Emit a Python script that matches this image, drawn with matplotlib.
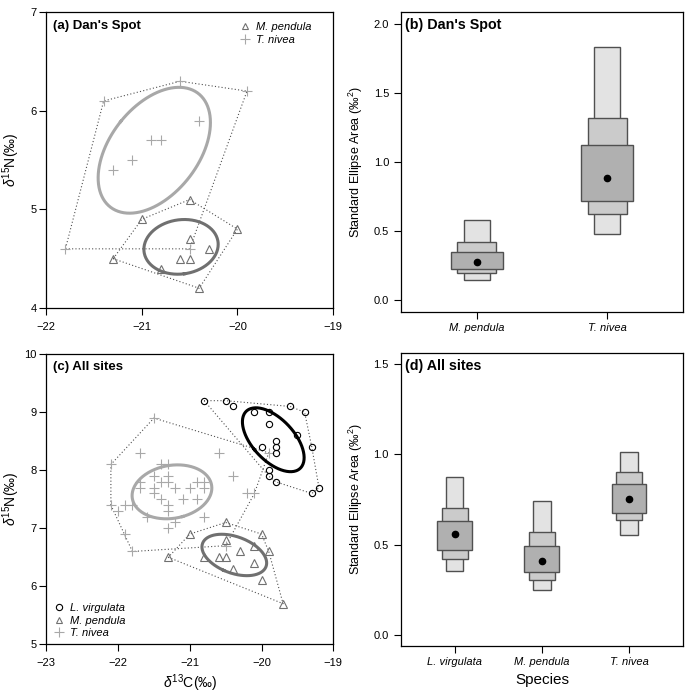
import matplotlib
matplotlib.use("Agg")
import matplotlib.pyplot as plt
import numpy as np

plt.rcParams["font.family"] = ["Liberation Sans", "DejaVu Sans"]
plt.rcParams["mathtext.fontset"] = "custom"
plt.rcParams["mathtext.rm"] = "Liberation Sans"
plt.rcParams["mathtext.it"] = "Liberation Sans:italic"

# ---- panel (a): Dan's Spot isotope values ----
dan_mp_c = [-20.5, -21.0, -20.0, -20.5, -20.3, -21.3, -20.6, -20.5, -20.8, -20.4]
dan_mp_n = [5.1, 4.9, 4.8, 4.7, 4.6, 4.5, 4.5, 4.5, 4.4, 4.2]
dan_tn_c = [-21.4, -20.6, -19.9, -20.4, -20.9, -20.8, -21.1, -21.3, -21.8, -20.5]
dan_tn_n = [6.1, 6.3, 6.2, 5.9, 5.7, 5.7, 5.5, 5.4, 4.6, 4.6]

# ---- panel (c): all sites ----
all_lv_c = [-20.8, -20.5, -20.4, -20.1, -19.9, -19.6, -19.4, -19.9, -19.5, -19.8,
            -19.8, -19.8, -20.0, -19.3, -19.9, -19.9, -19.8, -19.3, -19.2]
all_lv_n = [9.2, 9.2, 9.1, 9.0, 9.0, 9.1, 9.0, 8.8, 8.6, 8.5,
            8.4, 8.3, 8.4, 8.4, 8.0, 7.9, 7.8, 7.6, 7.7]
all_mp_c = [-20.5, -21.0, -20.0, -20.5, -20.1, -20.3, -19.9, -21.3, -20.8, -20.6,
            -20.5, -20.1, -20.4, -20.0, -19.7]
all_mp_n = [7.1, 6.9, 6.9, 6.8, 6.7, 6.6, 6.6, 6.5, 6.5, 6.5,
            6.5, 6.4, 6.3, 6.1, 5.7]
all_tn_c = [-21.5, -21.7, -20.6, -19.9, -22.1, -21.4, -21.3, -21.5, -21.3, -20.4,
            -21.4, -21.3, -20.9, -20.8, -21.7, -21.5, -21.2, -21.0, -20.8, -21.5,
            -20.2, -20.1, -21.4, -21.1, -20.9, -22.1, -21.9, -21.8, -21.3, -22.0,
            -21.3, -21.6, -20.8, -21.2, -21.3, -21.9, -21.8, -20.5, -21.7]
all_tn_n = [8.9, 8.3, 8.3, 8.3, 8.1, 8.1, 8.1, 7.9, 7.9, 7.9,
            7.8, 7.8, 7.8, 7.8, 7.7, 7.7, 7.7, 7.7, 7.7, 7.6,
            7.6, 7.6, 7.5, 7.5, 7.5, 7.4, 7.4, 7.4, 7.4, 7.3,
            7.3, 7.2, 7.2, 7.1, 7.0, 6.9, 6.6, 6.7, 7.8]

# ---- SEA credible intervals (95, 75, 50 %) and modes ----
dan_species = ["M. pendula", "T. nivea"]
dan_lo95 = [0.147, 0.478]
dan_hi95 = [0.580, 1.831]
dan_lo75 = [0.196, 0.623]
dan_hi75 = [0.418, 1.316]
dan_lo50 = [0.225, 0.717]
dan_hi50 = [0.348, 1.121]
dan_mode = [0.278, 0.884]

all_species = ["L. virgulata", "M. pendula", "T. nivea"]
all_lo95 = [0.352, 0.251, 0.553]
all_hi95 = [0.875, 0.740, 1.015]
all_lo75 = [0.419, 0.304, 0.635]
all_hi75 = [0.701, 0.568, 0.904]
all_lo50 = [0.469, 0.347, 0.677]
all_hi50 = [0.633, 0.494, 0.836]
all_mode = [0.557, 0.411, 0.753]

C_LV = "black"
C_MP = "#707070"
C_TN = "#a8a8a8"
HULL = "#505050"


def hull(x, y):
    pts = sorted(set(zip(x, y)))

    def cross(o, a, b):
        return (a[0] - o[0]) * (b[1] - o[1]) - (a[1] - o[1]) * (b[0] - o[0])

    lower, upper = [], []
    for p in pts:
        while len(lower) >= 2 and cross(lower[-2], lower[-1], p) <= 0:
            lower.pop()
        lower.append(p)
    for p in reversed(pts):
        while len(upper) >= 2 and cross(upper[-2], upper[-1], p) <= 0:
            upper.pop()
        upper.append(p)
    h = lower[:-1] + upper[:-1]
    h.append(h[0])
    return np.array(h)


def std_ellipse(x, y):
    # small-sample corrected standard ellipse (SEAc)
    x, y = np.asarray(x), np.asarray(y)
    n = len(x)
    cov = np.cov(x, y) * (n - 1) / (n - 2)
    vals, vecs = np.linalg.eigh(cov)
    t = np.linspace(0, 2 * np.pi, 200)
    circ = np.vstack([np.cos(t), np.sin(t)])
    pts = vecs @ (np.sqrt(vals)[:, None] * circ)
    return x.mean() + pts[0], y.mean() + pts[1]


def iso_panel(ax, groups, xlim, ylim, title):
    for x, y, col, mk, ms, lw_e in groups:
        h = hull(x, y)
        ax.plot(h[:, 0], h[:, 1], ls=(0, (1, 2)), color=HULL, lw=0.8, zorder=1)
    for x, y, col, mk, ms, lw_e in groups:
        if mk == "+":
            ax.plot(x, y, ls="none", marker="+", ms=ms, mew=0.8, color=col, zorder=2)
        else:
            ax.plot(x, y, ls="none", marker=mk, ms=ms, mfc="none", mew=0.8,
                    mec=col, zorder=2)
        ex, ey = std_ellipse(x, y)
        ax.plot(ex, ey, color=col, lw=lw_e, zorder=3)
    ax.set_xlim(*xlim)
    ax.set_ylim(*ylim)
    ax.tick_params(labelsize=8, length=5, direction="out")
    ax.tick_params(axis="x", pad=5)
    ax.tick_params(axis="y", pad=2)
    ax.text(0.024, 0.955, title, transform=ax.transAxes, fontsize=9.5,
            fontweight="bold", va="center", ha="left")


def sea_panel(ax, species, lo95, hi95, lo75, hi75, lo50, hi50, mode, ylim, yticks, title):
    pos = np.arange(1, len(species) + 1)
    for lo, hi, w, col in [(lo95, hi95, 0.2, "#e3e3e3"),
                           (lo75, hi75, 0.3, "#cbcbcb"),
                           (lo50, hi50, 0.4, "#b0b0b0")]:
        lo, hi = np.array(lo), np.array(hi)
        ax.bar(pos, hi - lo, bottom=lo, width=w, color=col, edgecolor="#505050",
               lw=1.0, zorder=2)
    ax.plot(pos, mode, ls="none", marker="o", ms=4.5, color="black", zorder=3)
    n = len(species)
    pad = 0.04 * n
    ax.set_xlim(0.5 - pad, n + 0.5 + pad)
    ax.set_ylim(*ylim)
    ax.set_xticks(pos)
    ax.set_xticklabels(species, fontstyle="italic")
    ax.set_yticks(yticks)
    ax.set_yticklabels([f"{v:.1f}" for v in yticks])
    ax.tick_params(labelsize=8, length=5, direction="out")
    ax.set_ylabel("Standard Ellipse Area (‰$^2$)", fontsize=9, labelpad=6)
    ax.text(0.015, 0.958, title, transform=ax.transAxes, fontsize=10.3,
            fontweight="bold", va="center", ha="left")


fig = plt.figure(figsize=(6.85, 6.96), dpi=100)
ax_a = fig.add_axes([0.0676, 0.5575, 0.4185, 0.4249])
ax_b = fig.add_axes([0.5854, 0.5522, 0.4117, 0.4302])
ax_c = fig.add_axes([0.0676, 0.0743, 0.419, 0.4167])
ax_d = fig.add_axes([0.585, 0.0723, 0.4122, 0.4201])

iso_panel(ax_a, [(dan_tn_c, dan_tn_n, C_TN, "+", 7, 2.2),
                 (dan_mp_c, dan_mp_n, C_MP, "^", 6, 2.2)],
          (-22, -19), (4, 7), "(a) Dan's Spot")
ax_a.set_xticks([-22, -21, -20, -19])
ax_a.set_yticks([4, 5, 6, 7])
ax_a.set_ylabel(r"$\delta^{15}$N(‰)", fontsize=10)
ax_a.yaxis.set_label_coords(-0.085, 0.5)
ax_a.plot([], [], ls="none", marker="^", ms=5, mfc="none", mec=C_MP, mew=0.8, label="M. pendula")
ax_a.plot([], [], ls="none", marker="+", ms=7, color=C_TN, mew=0.8, label="T. nivea")
ax_a.legend(loc="upper left", bbox_to_anchor=(0.64, 1.0), frameon=False,
            prop={"style": "italic", "size": 8}, handlelength=1.0,
            handletextpad=0.5, labelspacing=0.25, borderaxespad=0.5)

iso_panel(ax_c, [(all_tn_c, all_tn_n, C_TN, "+", 7, 2.2),
                 (all_mp_c, all_mp_n, C_MP, "^", 6, 2.2),
                 (all_lv_c, all_lv_n, C_LV, "o", 4.5, 2.2)],
          (-23, -19), (5, 10), "(c) All sites")
ax_c.set_xticks([-23, -22, -21, -20, -19])
ax_c.set_yticks([5, 6, 7, 8, 9, 10])
ax_c.set_ylabel(r"$\delta^{15}$N(‰)", fontsize=10)
ax_c.yaxis.set_label_coords(-0.085, 0.5)
ax_c.set_xlabel(r"$\delta^{13}$C(‰)", fontsize=10, labelpad=3)
ax_c.plot([], [], ls="none", marker="o", ms=4.5, mfc="none", mec=C_LV, mew=0.8, label="L. virgulata")
ax_c.plot([], [], ls="none", marker="^", ms=5, mfc="none", mec=C_MP, mew=0.8, label="M. pendula")
ax_c.plot([], [], ls="none", marker="+", ms=7, color=C_TN, mew=0.8, label="T. nivea")
ax_c.legend(loc="lower left", bbox_to_anchor=(-0.005, -0.01), frameon=False,
            prop={"style": "italic", "size": 8},
            handlelength=1.0, handletextpad=0.5, labelspacing=0.25, borderaxespad=0.4)

sea_panel(ax_b, dan_species, dan_lo95, dan_hi95, dan_lo75, dan_hi75, dan_lo50, dan_hi50,
          dan_mode, (-0.083, 2.085), [0.0, 0.5, 1.0, 1.5, 2.0], "(b) Dan's Spot")
sea_panel(ax_d, all_species, all_lo95, all_hi95, all_lo75, all_hi75, all_lo50, all_hi50,
          all_mode, (-0.059, 1.559), [0.0, 0.5, 1.0, 1.5], "(d) All sites")
ax_d.set_xlabel("Species", fontsize=11, labelpad=4)

for ax in (ax_a, ax_b, ax_c, ax_d):
    for s in ax.spines.values():
        s.set_linewidth(0.9)

fig.savefig("out.png", dpi=100)
